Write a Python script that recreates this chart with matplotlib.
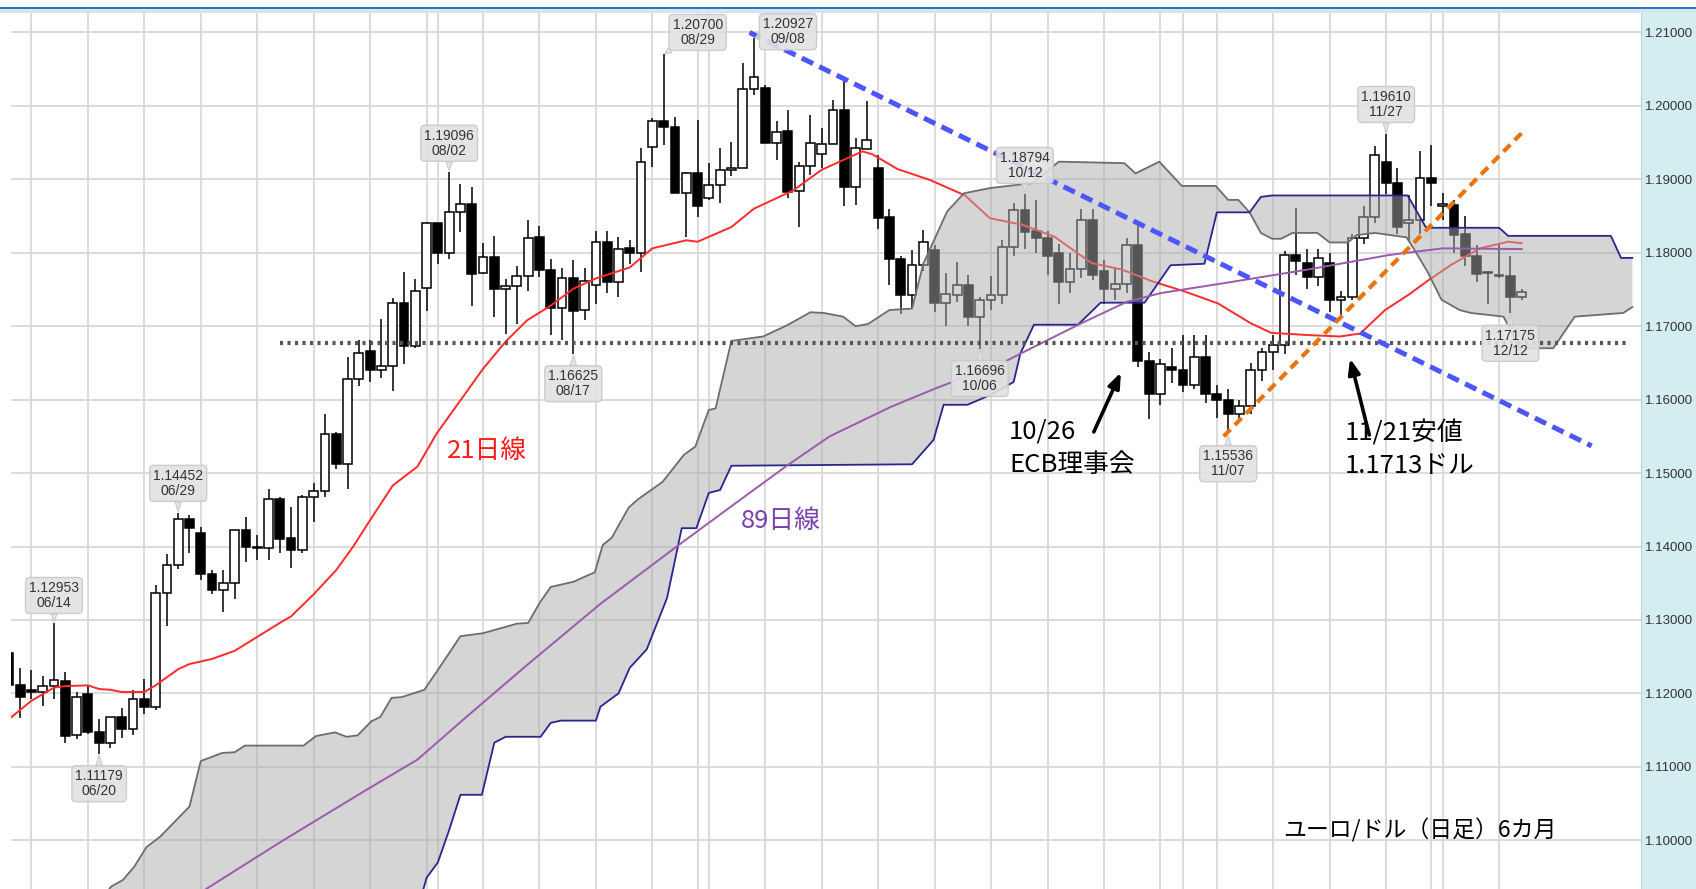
import numpy as np
import pandas as pd
import matplotlib
matplotlib.use('Agg')
import matplotlib.pyplot as plt
from matplotlib.patches import Polygon, Rectangle

plt.rcParams['lines.scale_dashes'] = False

# daily candles 2017-06-08 .. 2017-12-13, index 0 = 06/14
dates = pd.bdate_range('2017-06-08', '2017-12-13')

opens = [1.1255, 1.1212, 1.1205, 1.1202, 1.1210, 1.1217, 1.1143, 1.1199, 1.1148, 1.1133,
         1.1168, 1.1152, 1.1192, 1.1181, 1.1337, 1.1375, 1.1437, 1.1419, 1.1363, 1.1341,
         1.1350, 1.1422, 1.1399, 1.1398, 1.1465, 1.1411, 1.1395, 1.1468, 1.1476, 1.1553,
         1.1513, 1.1628, 1.1666, 1.1641, 1.1646, 1.1732, 1.1673, 1.1752, 1.1840, 1.1799,
         1.1855, 1.1867, 1.1773, 1.1794, 1.1751, 1.1755, 1.1768, 1.1822, 1.1777, 1.1725,
         1.1765, 1.1722, 1.1756, 1.1815, 1.1760, 1.1806, 1.1799, 1.1944, 1.1979, 1.1971,
         1.1882, 1.1908, 1.1875, 1.1892, 1.1913, 1.1916, 1.2023, 1.2024, 1.1950, 1.1966,
         1.1884, 1.1918, 1.1935, 1.1948, 1.1995, 1.1890, 1.1941, 1.1915, 1.1848, 1.1792,
         1.1742, 1.1783, 1.1804, 1.1732, 1.1743, 1.1756, 1.1712, 1.1735, 1.1742, 1.1808,
         1.1858, 1.1830, 1.1820, 1.1800, 1.1760, 1.1778, 1.1845, 1.1775, 1.1750, 1.1758,
         1.1810, 1.1652, 1.1608, 1.1645, 1.1640, 1.1620, 1.1658, 1.1608, 1.1600, 1.1580,
         1.1592, 1.1640, 1.1665, 1.1675, 1.1797, 1.1786, 1.1767, 1.1786, 1.1736, 1.1740,
         1.1820, 1.1849, 1.1924, 1.1895, 1.1840, 1.1845, 1.1902, 1.1863, 1.1865, 1.1825,
         1.1795, 1.1773, 1.1768, 1.1768, 1.1740]
highs = [1.1262, 1.1235, 1.1232, 1.1224, 1.12953, 1.1229, 1.1202, 1.1211, 1.1165, 1.1168,
         1.1180, 1.1205, 1.1220, 1.1348, 1.1390, 1.14452, 1.1443, 1.1427, 1.1368, 1.1368,
         1.1423, 1.1440, 1.1416, 1.1478, 1.1468, 1.1454, 1.1470, 1.1486, 1.1581, 1.1556,
         1.1658, 1.1681, 1.1681, 1.1710, 1.1739, 1.1774, 1.1764, 1.1842, 1.1841, 1.19096,
         1.1893, 1.1890, 1.1813, 1.1823, 1.1764, 1.1782, 1.1844, 1.1837, 1.1792, 1.1779,
         1.1790, 1.1779, 1.1829, 1.1829, 1.1822, 1.1818, 1.1942, 1.1983, 1.20700, 1.1985,
         1.1910, 1.1981, 1.1922, 1.1942, 1.1951, 1.2059, 1.20927, 1.2029, 1.1979, 1.1995,
         1.1923, 1.1988, 1.1970, 1.2008, 1.2035, 1.1956, 1.2006, 1.1933, 1.1860, 1.1795,
         1.1804, 1.1831, 1.1810, 1.1772, 1.1788, 1.1770, 1.1740, 1.1768, 1.1818, 1.1868,
         1.18794, 1.1872, 1.1830, 1.1812, 1.1800, 1.1860, 1.1860, 1.1790, 1.1780, 1.1820,
         1.1838, 1.1665, 1.1655, 1.1670, 1.1688, 1.1688, 1.1688, 1.1620, 1.1614, 1.1600,
         1.1650, 1.1670, 1.1688, 1.1802, 1.1861, 1.1805, 1.1805, 1.1800, 1.1748, 1.1825,
         1.1864, 1.1945, 1.19610, 1.1916, 1.1879, 1.1938, 1.1947, 1.1882, 1.1872, 1.1850,
         1.1810, 1.1775, 1.1812, 1.1795, 1.1750]
lows = [1.1205, 1.1166, 1.1193, 1.1183, 1.1193, 1.1132, 1.1138, 1.1145, 1.11179, 1.1126,
        1.1139, 1.1144, 1.1172, 1.1178, 1.1292, 1.1370, 1.1391, 1.1355, 1.1335, 1.1311,
        1.1329, 1.1379, 1.1382, 1.1382, 1.1391, 1.1371, 1.1391, 1.1434, 1.1468, 1.1506,
        1.1479, 1.1618, 1.1624, 1.1629, 1.1612, 1.1649, 1.1670, 1.1721, 1.1785, 1.1791,
        1.1828, 1.1728, 1.1771, 1.1712, 1.1689, 1.1703, 1.1748, 1.1767, 1.1688, 1.1681,
        1.16625, 1.1708, 1.1730, 1.1745, 1.1740, 1.1784, 1.1774, 1.1917, 1.1947, 1.1882,
        1.1822, 1.1849, 1.1872, 1.1868, 1.1904, 1.1916, 1.2015, 1.1950, 1.1926, 1.1874,
        1.1835, 1.1906, 1.1915, 1.1948, 1.1863, 1.1865, 1.1941, 1.1832, 1.1756, 1.1716,
        1.1725, 1.1775, 1.1720, 1.1700, 1.1733, 1.1700, 1.16696, 1.1722, 1.1730, 1.1795,
        1.1805, 1.1800, 1.1770, 1.1730, 1.1745, 1.1765, 1.1763, 1.1730, 1.1735, 1.1745,
        1.1645, 1.1573, 1.1593, 1.1623, 1.1610, 1.1615, 1.1595, 1.1575, 1.15536, 1.1570,
        1.1580, 1.1625, 1.1640, 1.1662, 1.1770, 1.1750, 1.1755, 1.1720, 1.1713, 1.1735,
        1.1812, 1.1840, 1.1880, 1.1826, 1.1816, 1.1825, 1.1863, 1.1845, 1.1800, 1.1782,
        1.1760, 1.1730, 1.1765, 1.17175, 1.1735]
closes = [1.1211, 1.1195, 1.1202, 1.1210, 1.1218, 1.1142, 1.1195, 1.1148, 1.1133, 1.1168,
          1.1152, 1.1192, 1.1181, 1.1337, 1.1375, 1.1438, 1.1425, 1.1363, 1.1341, 1.1350,
          1.1422, 1.1399, 1.1398, 1.1465, 1.1410, 1.1395, 1.1468, 1.1476, 1.1553, 1.1513,
          1.1628, 1.1664, 1.1641, 1.1646, 1.1732, 1.1673, 1.1748, 1.1840, 1.1799, 1.1855,
          1.1867, 1.1771, 1.1794, 1.1750, 1.1755, 1.1768, 1.1820, 1.1776, 1.1725, 1.1765,
          1.1721, 1.1762, 1.1815, 1.1760, 1.1805, 1.1799, 1.1923, 1.1979, 1.1971, 1.1882,
          1.1908, 1.1863, 1.1892, 1.1913, 1.1916, 1.2023, 1.2039, 1.1950, 1.1965, 1.1883,
          1.1918, 1.1949, 1.1948, 1.1995, 1.1890, 1.1942, 1.1953, 1.1847, 1.1791, 1.1742,
          1.1783, 1.1815, 1.1732, 1.1744, 1.1756, 1.1712, 1.1735, 1.1742, 1.1808, 1.1858,
          1.1828, 1.1820, 1.1795, 1.1760, 1.1778, 1.1845, 1.1770, 1.1750, 1.1758, 1.1810,
          1.1652, 1.1608, 1.1648, 1.1640, 1.1620, 1.1658, 1.1608, 1.1600, 1.1580, 1.1592,
          1.1640, 1.1665, 1.1675, 1.1797, 1.1789, 1.1767, 1.1793, 1.1736, 1.1740, 1.1820,
          1.1849, 1.1933, 1.1895, 1.1835, 1.1845, 1.1902, 1.1895, 1.1866, 1.1824, 1.1796,
          1.1771, 1.1772, 1.1770, 1.1740, 1.1747]

# moving averages (index, price)
ma21_x = [-4, -2, 0, 1, 3, 4, 5, 6, 8, 9, 10, 11, 12, 14, 16, 18, 20, 21, 23, 25, 26.5, 28, 30,
          32.2, 33.9, 36, 38, 40, 41.9, 44, 46, 48, 51, 53, 56, 57, 60, 62, 65.5, 68, 71.6, 72.5,
          74.7, 77.6, 80.7, 82.9, 85.8, 88.6, 91.9, 94.6, 97.3, 100.2, 103.1, 106, 107.8, 111,
          113.9, 115.7, 117.9, 120, 121.6, 123.7, 126.3, 128.8, 130]
ma21_y = [1.1165, 1.1190, 1.1208, 1.1210, 1.1211, 1.1206, 1.1205, 1.1202, 1.1202, 1.1211,
          1.1222, 1.1233, 1.1240, 1.1247, 1.1258, 1.1277, 1.1296, 1.1305, 1.1335, 1.1368,
          1.1400, 1.1436, 1.1483, 1.1509, 1.1554, 1.1599, 1.1642, 1.1679, 1.1708, 1.1728,
          1.1751, 1.1765, 1.1780, 1.1806, 1.1817, 1.1815, 1.1835, 1.1860, 1.1885, 1.1913,
          1.1938, 1.1934, 1.1914, 1.1899, 1.1878, 1.1847, 1.1838, 1.1822, 1.1786, 1.1777,
          1.1761, 1.1747, 1.1731, 1.1704, 1.1691, 1.1688, 1.1686, 1.1690, 1.1722, 1.1743,
          1.1761, 1.1783, 1.1806, 1.1815, 1.1813]
ma89_x = [12.5, 13.5, 20.3, 27.7, 32.2, 36.9, 42, 48.4, 55.5, 60.9, 65, 68.7, 74.1, 78.2, 84,
          86.3, 91, 95, 98, 103.8, 111, 118.3, 123, 130]
ma89_y = [1.0920, 1.0934, 1.1000, 1.1069, 1.1110, 1.1173, 1.1240, 1.1322, 1.1404, 1.1465,
          1.1511, 1.1550, 1.1590, 1.1616, 1.1650, 1.1668, 1.1704, 1.1733, 1.1745, 1.1759,
          1.1777, 1.1797, 1.1806, 1.1805]

# ichimoku cloud boundaries
span_a_x = [4, 5.05, 6.1, 7.1, 8.2, 9.4, 12, 13, 14.9, 16, 16.9, 22.1, 23.2, 24.9, 25.9, 26.9,
            28.1, 28.9, 29.9, 30.8, 32.8, 34, 36, 38, 41, 42, 43, 44, 46, 47.9, 48.6, 49.4,
            50.9, 51.7, 53.9, 55.8, 56.8, 58, 58.6, 60, 62.8, 64.9, 67, 68.2, 69.9, 71, 72.1,
            74, 76, 77, 79.1, 80.6, 82.9, 86.7, 89, 94.8, 95.8, 97.9, 99.9, 102.9, 104, 104.9,
            105.9, 106.9, 107.9, 108.7, 109.7, 111.9, 113, 114.6, 115.4, 117, 119.8, 120.5,
            121.7, 122.9, 124.5, 125.5, 128.4, 129.8, 132.8, 134.7, 139, 139.8]
span_a_y = [1.0915, 1.0937, 1.0946, 1.0964, 1.0991, 1.1005, 1.1046, 1.1108, 1.1119, 1.1120,
            1.1129, 1.1129, 1.1142, 1.1147, 1.1141, 1.1143, 1.1162, 1.1168, 1.1194, 1.1195,
            1.1205, 1.1232, 1.1278, 1.1282, 1.1295, 1.1296, 1.1323, 1.1345, 1.1352, 1.1365,
            1.1402, 1.1412, 1.1453, 1.1464, 1.1488, 1.1525, 1.1536, 1.1586, 1.1588, 1.1680,
            1.1686, 1.1701, 1.1719, 1.1718, 1.1713, 1.1700, 1.1703, 1.1722, 1.1724, 1.1785,
            1.1856, 1.1881, 1.1888, 1.1895, 1.1924, 1.1922, 1.1908, 1.1924, 1.1891, 1.1891,
            1.1872, 1.1872, 1.1855, 1.1827, 1.1819, 1.1819, 1.1827, 1.1827, 1.1814, 1.1814,
            1.1824, 1.1827, 1.1821, 1.1804, 1.1773, 1.1736, 1.1722, 1.1718, 1.1713, 1.1670,
            1.1670, 1.1713, 1.1718, 1.1726]
span_b_x = [5, 31.2, 33, 34, 35, 36, 37.9, 39, 40, 43.1, 44, 44.9, 48, 48.4, 50, 51, 52.5,
            54.3, 55.6, 56.9, 58, 59, 60, 76, 77.9, 78.8, 80.9, 82.9, 85, 85.6, 86.8, 90.7,
            92.7, 96.6, 98.9, 101.9, 103, 105.9, 106.9, 107.9, 119.9, 121.5, 122, 128, 128.8,
            137.9, 138.8, 139.8]
span_b_y = [1.0850, 1.0850, 1.0949, 1.0970, 1.1014, 1.1062, 1.1062, 1.1133, 1.1141, 1.1141,
            1.1160, 1.1163, 1.1163, 1.1182, 1.1200, 1.1235, 1.1260, 1.1330, 1.1425, 1.1425,
            1.1473, 1.1477, 1.1510, 1.1512, 1.1545, 1.1593, 1.1593, 1.1606, 1.1624, 1.1663,
            1.1702, 1.1702, 1.1732, 1.1732, 1.1783, 1.1785, 1.1855, 1.1855, 1.1876, 1.1878,
            1.1878, 1.1835, 1.1834, 1.1834, 1.1823, 1.1823, 1.1793, 1.1793]

support_level = 1.1677
down_trend = ([61.6, 136.2], [1.2100, 1.1537])
up_trend = ([103.6, 130.0], [1.1550, 1.1963])

extremes = [  # index, price, label, offset (px)
    (0, 1.12953, '06/14', (0, 28)),
    (4, 1.11179, '06/20', (0, -30)),
    (11, 1.14452, '06/29', (0, 30)),
    (35, 1.19096, '08/02', (0, 29)),
    (46, 1.16625, '08/17', (0, -30)),
    (54, 1.20700, '08/29', (34, 22)),
    (62, 1.20927, '09/08', (34, 6)),
    (82, 1.16696, '10/06', (0, -30)),
    (86, 1.18794, '10/12', (0, 29)),
    (104, 1.15536, '11/07', (0, -30)),
    (118, 1.19610, '11/27', (0, 30)),
    (129, 1.17175, '12/12', (0, -30)),
]

jp = ['Noto Sans CJK JP', 'DejaVu Sans']
num_font = ['Liberation Sans', 'DejaVu Sans']

idx = np.arange(len(opens)) - 4
o = np.array(opens); h = np.array(highs); l = np.array(lows); c = np.array(closes)

fig = plt.figure(figsize=(16.96, 8.89), dpi=100)
fig.patch.set_facecolor('white')
ax = fig.add_axes([11 / 1696, 0, 1630 / 1696, 876 / 889])
ax.set_xlim(-3.81, 140.57)
ax.set_ylim(1.093376, 1.212641)

# grid
for lev in np.arange(1.10, 1.2101, 0.01):
    ax.axhline(lev, color='#d9d9d9', lw=1.3, zorder=0)
first_of_month = pd.Series(dates.month, index=dates).diff().fillna(0) != 0
for k, d in enumerate(dates):
    if d.weekday() == 0 or first_of_month.iloc[k]:
        ax.axvline(idx[k], color='#d9d9d9', lw=1.3, zorder=0)

# candles
up = c >= o
ax.vlines(idx, l, h, color='black', lw=1.1, zorder=2)
body = np.maximum(np.abs(c - o), 0.00012)
ax.bar(idx[up], body[up], bottom=np.minimum(o, c)[up], width=0.78,
       color='white', edgecolor='black', lw=1.1, zorder=3)
ax.bar(idx[~up], body[~up], bottom=np.minimum(o, c)[~up], width=0.78,
       color='black', edgecolor='black', lw=1.1, zorder=3)

ax.plot(ma21_x, ma21_y, color='#ff2a2a', lw=1.4, zorder=4)

# cloud over candles
pts = list(zip(span_a_x, span_a_y)) + list(zip(span_b_x, span_b_y))[::-1]
ax.add_patch(Polygon(pts, closed=True, fc='#acacac', alpha=0.5, ec='none', zorder=5))
ax.plot(span_a_x, span_a_y, color='#6d6d6d', lw=1.3, zorder=6)
ax.plot(span_b_x, span_b_y, color='#27278f', lw=1.3, zorder=6)
ax.plot(ma89_x, ma89_y, color='#9a5aae', lw=1.4, zorder=6)

ax.hlines(support_level, 20, 139.2, color='#555555', lw=3,
          linestyles=(0, (2.2, 3.2)), zorder=7)
ax.plot(*down_trend, color='#4d55ff', lw=3.6, ls=(0, (9, 5)), zorder=8)
ax.plot(*up_trend, color='#e8730f', lw=3, ls=(0, (7, 4.5)), zorder=8)

for i, p, d, off in extremes:
    ax.annotate('%.5f\n%s' % (p, d), xy=(i, p), xytext=off, textcoords='offset pixels',
                ha='center', va='center', fontsize=10, family=num_font, color='#333333',
                linespacing=1.1, zorder=9,
                bbox=dict(boxstyle='round,pad=0.25,rounding_size=0.3', fc='#e1e1e1',
                          ec='#c9c9c9', lw=1, alpha=0.9),
                arrowprops=dict(arrowstyle='wedge,tail_width=0.45,shrink_factor=0.5',
                                fc='#e1e1e1', ec='#c9c9c9', lw=0.8, alpha=0.9,
                                shrinkA=0, shrinkB=1))

ax.text(38.35, 1.1530, '21日線', color='#ff1a1a', fontsize=18.5, family=jp,
        ha='center', va='center', zorder=10)
ax.text(64.4, 1.14348, '89日線', color='#7b3fb0', fontsize=18.5, family=jp,
        ha='center', va='center', zorder=10)
ax.text(84.6, 1.1575, '10/26\nECB理事会', color='black', fontsize=18.5, family=jp,
        ha='left', va='top', linespacing=1.4, zorder=10)
ax.text(114.35, 1.1572, '11/21安値\n1.1713ドル', color='black', fontsize=18.5, family=jp,
        ha='left', va='top', linespacing=1.35, zorder=10)
ax.text(108.9, 1.1014, 'ユーロ/ドル（日足）6カ月', color='black', fontsize=16.5, family=jp,
        ha='left', va='center', zorder=10)

ax.annotate('', xy=(94.5, 1.1637), xytext=(92.1, 1.1556),
            arrowprops=dict(arrowstyle='-|>,head_length=0.9,head_width=0.35',
                            color='black', lw=2.6, shrinkA=0, shrinkB=0), zorder=10)
ax.annotate('', xy=(114.8, 1.1656), xytext=(116.5, 1.1552),
            arrowprops=dict(arrowstyle='-|>,head_length=0.9,head_width=0.35',
                            color='black', lw=2.6, shrinkA=0, shrinkB=0), zorder=10)

# price axis on the right
ax.yaxis.tick_right()
ticks = np.arange(1.10, 1.2101, 0.01)
ax.set_yticks(ticks)
ax.set_yticklabels(['%.5f' % t for t in ticks], family=num_font, fontsize=9.5, color='#333333')
ax.tick_params(axis='y', length=0, pad=3)
ax.set_xticks([])
for s in ax.spines.values():
    s.set_visible(False)

fig.patches.append(Rectangle((1641 / 1696, 0), 55 / 1696, 876 / 889, transform=fig.transFigure,
                             fc='#d4edf0', ec='none', zorder=-1))
fig.patches.append(Rectangle((1640 / 1696, 0), 1.5 / 1696, 876 / 889, transform=fig.transFigure,
                             fc='#b9d3d8', ec='none', zorder=-1))
fig.patches.append(Rectangle((0, 876 / 889), 1, 4 / 889, transform=fig.transFigure,
                             fc='#d6e6ee', ec='none'))
fig.patches.append(Rectangle((0, 880 / 889), 1, 2 / 889, transform=fig.transFigure,
                             fc='#2a78cc', ec='none'))

fig.savefig('out.png', dpi=100)
